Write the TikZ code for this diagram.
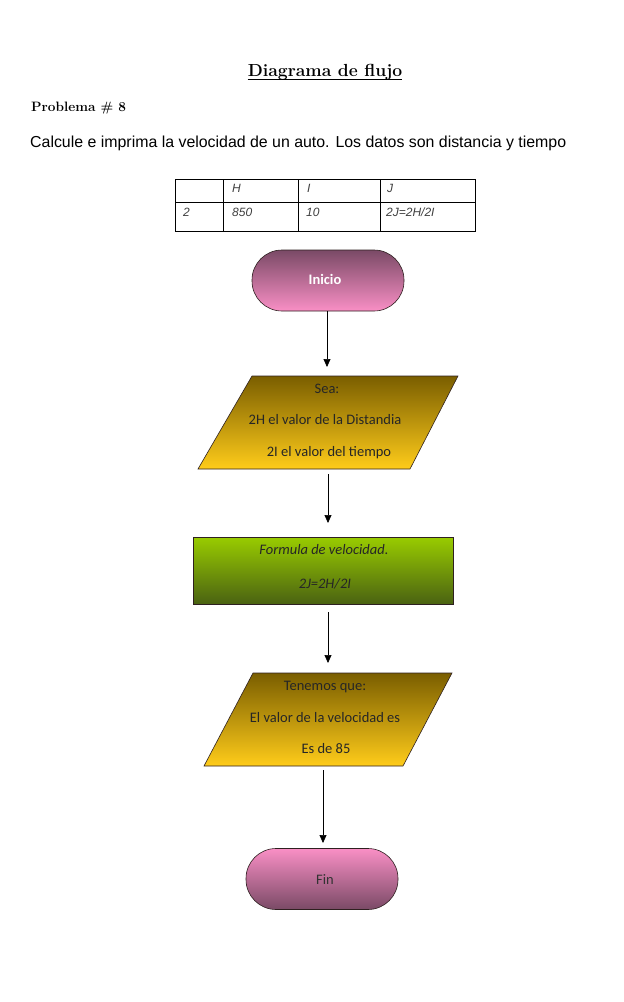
\documentclass[tikz,border=0pt]{standalone}
\usepackage{fontspec}
\usetikzlibrary{arrows.meta}
\newfontfamily\calibri{Carlito}
\newfontfamily\tahoma{Liberation Sans}
\definecolor{pinkL}{HTML}{F98FC5}
\definecolor{pinkD}{HTML}{7A4A66}
\definecolor{goldD}{HTML}{7A5E00}
\definecolor{goldL}{HTML}{FFCC1A}
\definecolor{greenL}{HTML}{99CC00}
\definecolor{greenD}{HTML}{4A6212}
\definecolor{edge}{HTML}{2E2020}
\begin{document}
\begin{tikzpicture}[x=1pt,y=-1pt,
  terminal/.style={rounded corners=30pt, minimum width=152pt, minimum height=61pt, inner sep=0pt, draw=edge, line width=0.6pt},
  procbox/.style={minimum width=260pt, minimum height=67pt, inner sep=0pt, draw=edge, line width=0.6pt, top color=greenL, bottom color=greenD},
  para/.style={draw=edge, line width=0.6pt, top color=goldD, bottom color=goldL},
  shapetext/.style={font=\calibri\fontsize{14.5}{17}\selectfont, inner sep=0pt, anchor=base, text=black!85},
  celltext/.style={font=\tahoma\itshape\fontsize{12}{14}\selectfont, inner sep=0pt, anchor=base west, text=black!75},
  flow/.style={-{Triangle[length=8pt,width=7pt]}, line width=0.7pt}
]
\useasboundingbox (0,0) rectangle (624,1002);
\fill[white] (0,0) rectangle (624,1002);

% headings
\node[inner sep=0pt, anchor=base] (title) at (325,76) {\fontsize{17.5}{20}\selectfont\bfseries Diagrama de flujo};
\draw[line width=1pt] (title.base west) ++(0,3) -- ([yshift=-3pt]title.base east) coordinate (ul);
\node[inner sep=0pt, anchor=base west] (prob) at (31,111) {\fontsize{13.6}{16}\selectfont\bfseries Problema \# 8};
\node[inner sep=0pt, anchor=base west] (enun) at (30,147) {\resizebox{536pt}{!}{\tahoma\fontsize{15}{18}\selectfont Calcule e imprima la velocidad de un auto. Los datos son distancia y tiempo}};

% table
\draw[line width=0.8pt] (175,179) rectangle (475,231);
\draw[line width=0.8pt] (175,202) -- (475,202);
\foreach \cx in {223,298,380} \draw[line width=0.8pt] (\cx,179) -- (\cx,231);
\node[celltext] (tH) at (232,192) {H};
\node[celltext] (tI) at (307,192) {I};
\node[celltext] (tJ) at (387,192) {J};
\node[celltext] (t2) at (183,216) {2};
\node[celltext] (t850) at (232,216) {850};
\node[celltext] (t10) at (306,216) {10};
\node[celltext] (tf) at (386,216) {2J=2H/2I};

% inicio
\node[terminal, top color=pinkD, bottom color=pinkL] (inicio) at (328,280.5) {};
\node[shapetext, text=white, font=\calibri\bfseries\fontsize{14.5}{17}\selectfont] (inicioT) at (325,284) {Inicio};

% sea parallelogram
\path[para] (252,376) -- (458,376) -- (410,469) -- (198,469) -- cycle;
\coordinate (seaTop) at (327,367);
\coordinate (seaBot) at (328,474);
\node[shapetext] (sea1) at (327,393) {Sea:};
\node[shapetext] (sea2) at (325,424) {2H el valor de la Distandia};
\node[shapetext] (sea3) at (329,456) {2I el valor del tiempo};

% formula box
\node[procbox] (form) at (323,570.5) {};
\node[shapetext, font=\calibri\itshape\fontsize{14.5}{17}\selectfont] (form1) at (324,554) {Formula de velocidad.};
\node[shapetext, font=\calibri\itshape\fontsize{14.5}{17}\selectfont] (form2) at (325,588) {2J=2H/2I};
\coordinate (formIn) at (328,523);
\coordinate (formOut) at (328,612);

% tenemos parallelogram
\path[para] (253,673) -- (452,673) -- (403,766) -- (204,766) -- cycle;
\coordinate (tenTop) at (328,663);
\coordinate (tenBot) at (323,770);
\node[shapetext] (ten1) at (325,690) {Tenemos que:};
\node[shapetext] (ten2) at (325,722) {El valor de la velocidad es};
\node[shapetext] (ten3) at (326,753) {Es de 85};

% fin
\node[terminal, top color=pinkL, bottom color=pinkD] (fin) at (322,879) {};
\node[shapetext, text=black!80] (finT) at (325,884) {Fin};
\coordinate (finTop) at (323,843);

% connectors
\draw[flow] (inicio.south -| seaTop) -- (seaTop);
\draw[flow] (seaBot) -- (formIn);
\draw[flow] (formOut) -- (tenTop);
\draw[flow] (tenBot) -- (finTop);
\end{tikzpicture}
\end{document}
